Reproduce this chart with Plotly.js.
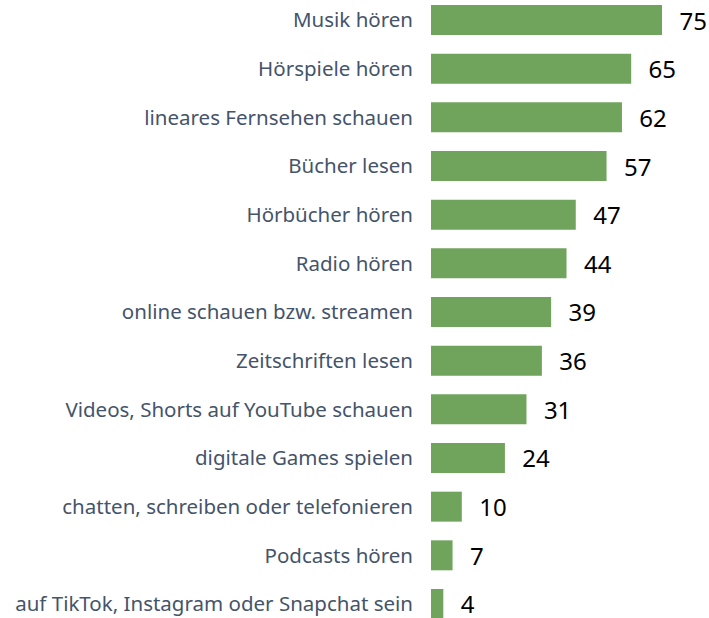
<!DOCTYPE html>
<html>
<head>
<meta charset="utf-8">
<script src="https://cdn.plot.ly/plotly-3.0.1.min.js"></script>
<style>html,body{margin:0;padding:0;background:#fff;}#chart{width:709px;height:618px;}</style>
</head>
<body>
<div id="chart"></div>
<script>
const categories = [
  "Musik hören",
  "Hörspiele hören",
  "lineares Fernsehen schauen",
  "Bücher lesen",
  "Hörbücher hören",
  "Radio hören",
  "online schauen bzw. streamen",
  "Zeitschriften lesen",
  "Videos, Shorts auf YouTube schauen",
  "digitale Games spielen",
  "chatten, schreiben oder telefonieren",
  "Podcasts hören",
  "auf TikTok, Instagram oder Snapchat sein"
];
const values = [75, 65, 62, 57, 47, 44, 39, 36, 31, 24, 10, 7, 4];

const trace = {
  type: "bar",
  orientation: "h",
  x: values,
  y: categories,
  marker: {color: "#70A35C"},
  texttemplate: "\u2002\u200A%{x}",
  textposition: "outside",
  constraintext: "none",
  cliponaxis: false,
  textfont: {family: "Noto Sans, sans-serif", size: 24, color: "#000000"},
  hoverinfo: "none"
};

const layout = {
  width: 709,
  height: 618,
  margin: {l: 431, r: 0, t: 0, b: 0, pad: 0},
  paper_bgcolor: "#ffffff",
  plot_bgcolor: "#ffffff",
  showlegend: false,
  bargap: 0.384,
  xaxis: {
    range: [0, 90.26],
    visible: false,
    fixedrange: true
  },
  yaxis: {
    type: "category",
    categoryorder: "array",
    categoryarray: categories,
    range: [12.288, -0.411],
    showgrid: false,
    zeroline: false,
    showline: false,
    ticks: "",
    ticklabelstandoff: 17,
    tickfont: {family: "Noto Sans, sans-serif", size: 20.5, color: "#44546A"},
    fixedrange: true
  }
};

Plotly.newPlot("chart", [trace], layout, {displayModeBar: false, staticPlot: true});
</script>
</body>
</html>
